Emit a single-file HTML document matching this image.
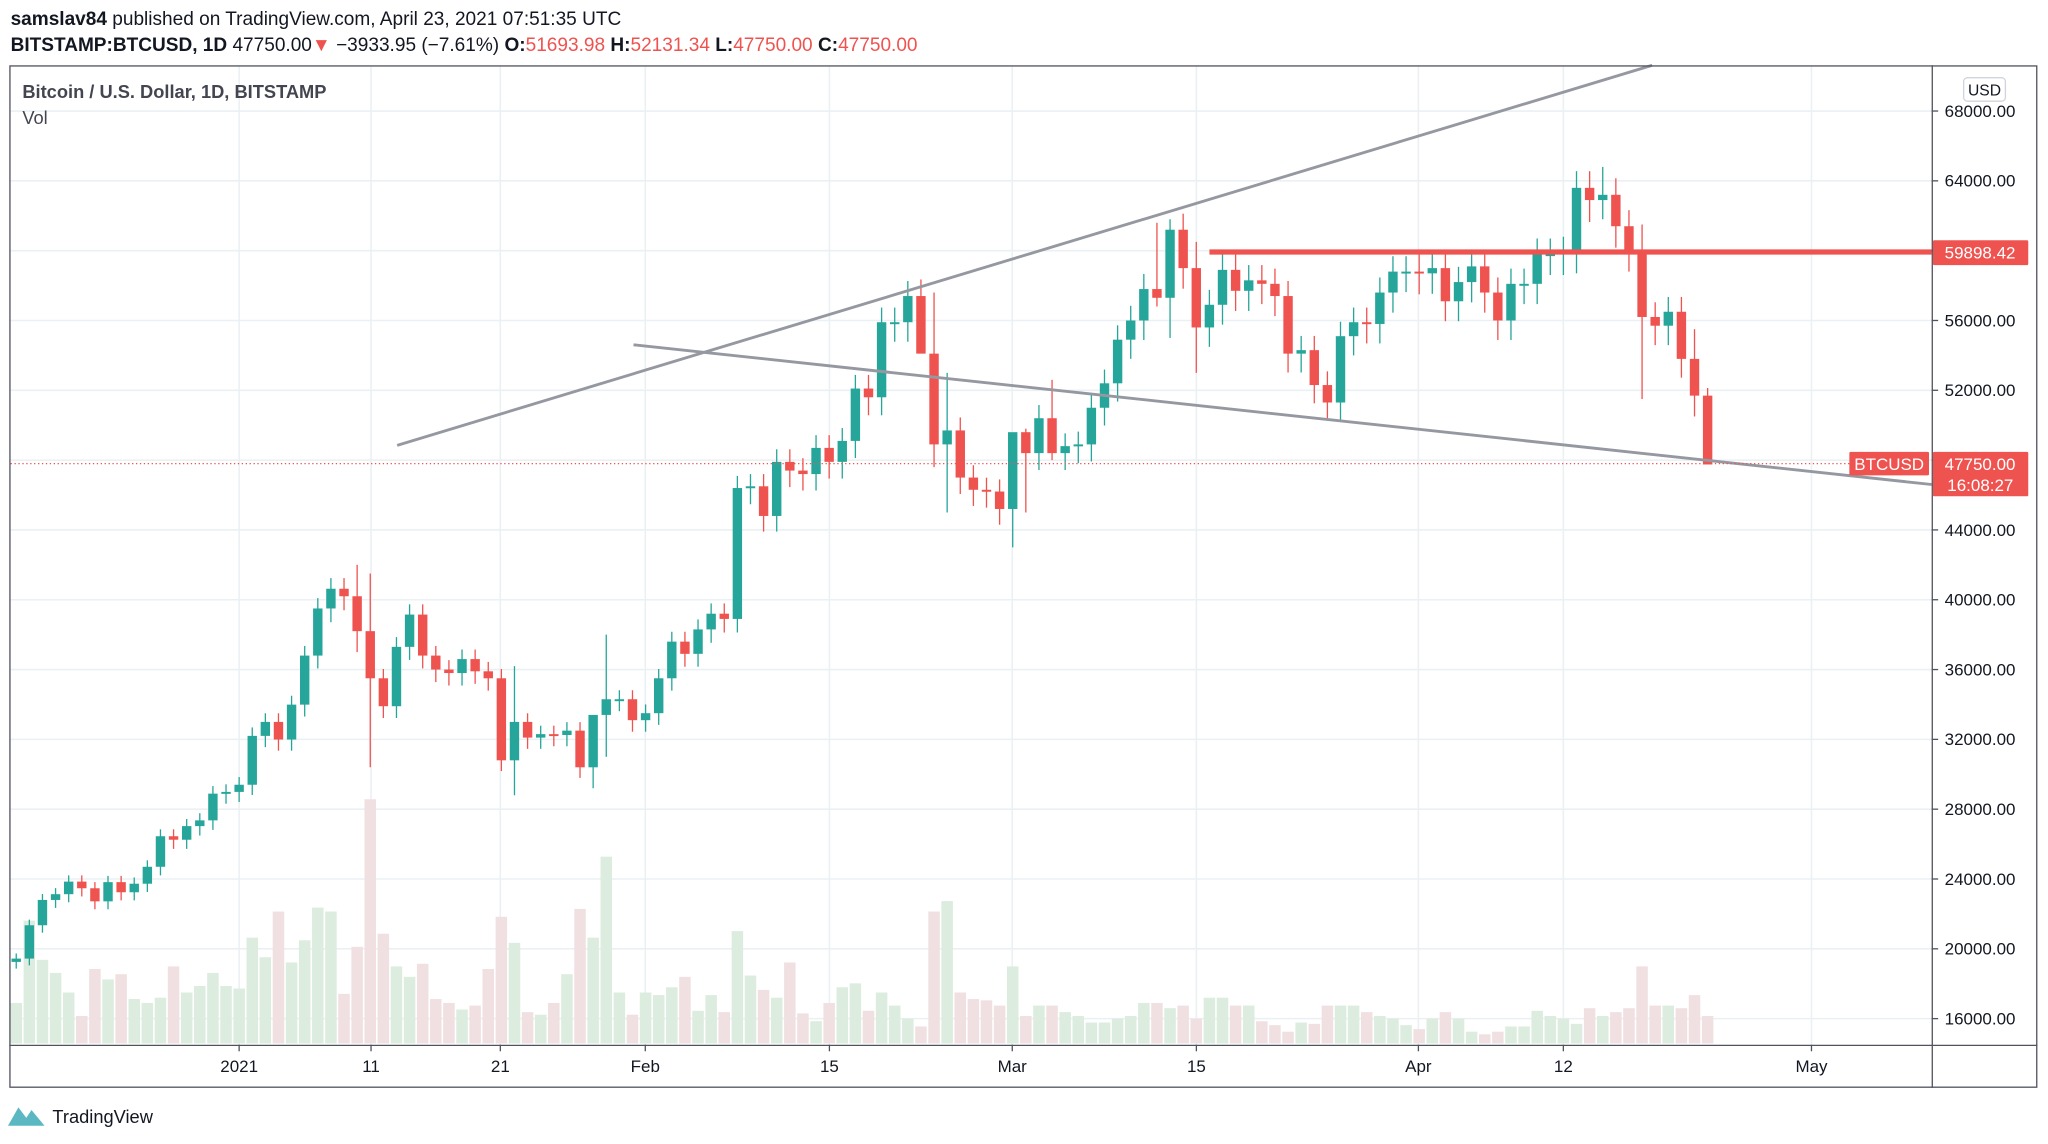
<!DOCTYPE html>
<html><head><meta charset="utf-8"><style>
html,body{margin:0;padding:0;background:#fff;}
svg{display:block;}
text{font-family:"Liberation Sans",sans-serif;}
</style></head><body>
<svg id="s" width="2048" height="1144" viewBox="0 0 1568 876" xmlns="http://www.w3.org/2000/svg">
<rect width="1568" height="876" fill="#fff"/>
<g id="grid"></g>
<g id="vol"></g>
<g id="cand"></g>
<g id="axis"></g>
<g id="over"></g>
<text x="8" y="19" font-size="14.6" fill="#131722"><tspan font-weight="bold">samslav84</tspan> published on TradingView.com, April 23, 2021 07:51:35 UTC</text>
<text x="8" y="39" font-size="14.6" fill="#131722"><tspan font-weight="bold">BITSTAMP:BTCUSD, 1D</tspan> 47750.00<tspan fill="#ef5350">▼</tspan> −3933.95 (−7.61%) <tspan font-weight="bold">O:</tspan><tspan fill="#ef5350">51693.98</tspan> <tspan font-weight="bold">H:</tspan><tspan fill="#ef5350">52131.34</tspan> <tspan font-weight="bold">L:</tspan><tspan fill="#ef5350">47750.00</tspan> <tspan font-weight="bold">C:</tspan><tspan fill="#ef5350">47750.00</tspan></text>
<rect x="7.5" y="50.5" width="1552" height="782" fill="none" stroke="#50535e" stroke-width="1"/>
<line x1="1479.5" y1="50" x2="1479.5" y2="833" stroke="#50535e"/>
<line x1="7" y1="800.5" x2="1560" y2="800.5" stroke="#50535e"/>
<text x="17" y="75" font-size="14" fill="#434651" font-weight="bold">Bitcoin / U.S. Dollar, 1D, BITSTAMP</text>
<text x="17" y="95" font-size="14" fill="#434651">Vol</text>
<rect x="1503.5" y="59.5" width="32" height="18" rx="3" fill="#fff" stroke="#d1d4dc"/>
<text x="1519.5" y="73" font-size="12" fill="#131722" text-anchor="middle">USD</text>
<path d="M6 862 L14 848 L20 856 L24 850 L34 862 Z" fill="#5bb8c2"/>
<text x="40" y="860" font-size="14" fill="#131722">TradingView</text>
</svg>
<script>
var NS="http://www.w3.org/2000/svg";
function el(p,t,a,txt){var e=document.createElementNS(NS,t);for(var k in a)e.setAttribute(k,a[k]);if(txt!==undefined)e.textContent=txt;document.getElementById(p).appendChild(e);return e;}
function Y(p){return 780-(p-16000)/4000*53.46;}
function X(i){return 183+(i-17)*10.04;}
for(var p=16000;p<=68000;p+=4000){var y=Y(p);el('grid','line',{x1:8,y1:y,x2:1479,y2:y,stroke:'#eaf0f3','stroke-width':1.2});
el('axis','line',{x1:1479,y1:y,x2:1484,y2:y,stroke:'#50535e'});
el('axis','text',{x:1489,y:y+4.5,'font-size':13,fill:'#131722'},p.toFixed(2));}
var dl=[[183,'2021'],[284,'11'],[383,'21'],[494,'Feb'],[635,'15'],[775,'Mar'],[916,'15'],[1086,'Apr'],[1197,'12'],[1387,'May']];
dl.forEach(function(d){el('grid','line',{x1:d[0],y1:51,x2:d[0],y2:800,stroke:'#eaf0f3','stroke-width':1.2});
el('axis','line',{x1:d[0],y1:800,x2:d[0],y2:805,stroke:'#50535e'});
el('axis','text',{x:d[0],y:821,'font-size':13,fill:'#131722','text-anchor':'middle'},d[1]);});
var C=[19440,21350,22800,23130,23850,23470,22720,23820,23240,23730,24700,26450,26250,27030,27360,28890,28990,
29400,32200,33000,31990,33990,36800,39500,40630,40200,38200,35500,33900,37300,39150,36800,36000,35800,36600,35900,35500,30800,33000,32100,32300,32250,32500,30400,33400,34300,34300,33100,
33500,35500,37600,36900,38300,39200,38900,46400,46500,44800,47900,47400,47200,48700,47900,49100,52100,51600,55900,55900,57400,54100,48900,49700,47000,46300,46200,45200,
49600,48400,50400,48400,48800,48900,51000,52400,54900,56000,57800,57300,61200,59000,55600,56900,58900,57700,58300,58100,57400,54100,54300,52300,51300,55100,55900,55800,57600,58800,58800,
58700,59000,57100,58200,59100,57600,56000,58100,58100,59800,59800,59900,63600,62900,63200,61400,60000,56200,55700,56500,53800,51694,47750];
var V=[768,705,735,745,760,778,742,750,746,765,768,764,740,760,755,745,755,
757,718,733,698,737,720,695,698,761,725,612,715,740,748,738,765,768,773,770,742,702,722,775,777,768,746,696,718,656,760,777,
760,762,756,748,774,762,775,713,747,758,764,737,776,782,768,756,753,774,760,770,780,786,698,690,760,765,766,770,
740,778,770,770,775,778,783,783,780,778,768,768,772,770,780,764,764,770,770,782,785,790,783,784,770,770,770,775,778,780,785,
788,780,775,780,790,792,790,786,786,774,778,780,784,772,778,775,772,740,770,770,772,762,778];
var OV={27:[41500,30400],26:[42000,37000],38:[36200,28800],44:[33000,29200],45:[38000,31000],69:[58350,55300],70:[57600,47600],71:[53000,45000],76:[48500,43000],77:[49800,45000],79:[52600,48000],87:[61600,56800],88:[61800,55000],90:[60500,53000],107:[60000,57500],121:[64800,61800],124:[61500,51500],128:[55500,50500],129:[52131,47750]};
for(var i=0;i<C.length;i++){
 var o=i==0?19250:C[i-1],c=C[i];
 var up=c>=o,col=up?'#26a69a':'#ef5350';
 var hi=Math.max(o,c)*1.015,lo=Math.min(o,c)*0.98;if(OV[i]){hi=OV[i][0];lo=OV[i][1];}
 var x=X(i);
 el('vol','rect',{x:x-4.4,y:V[i],width:8.8,height:799-V[i],fill:up?'#dcecdf':'#f0e0e1'});
 el('cand','line',{x1:x,y1:Y(hi),x2:x,y2:Y(lo),stroke:col,'stroke-width':1});
 var t=Y(Math.max(o,c)),b=Y(Math.min(o,c));if(b-t<1.5){b=t+1.5;}
 el('cand','rect',{x:x-3.6,y:t,width:7.2,height:b-t,fill:col});
}
el('over','line',{x1:304,y1:341,x2:1265,y2:50,stroke:'#9598a1','stroke-width':2.2});
el('over','line',{x1:485,y1:264,x2:1479,y2:371,stroke:'#9598a1','stroke-width':2.2});
el('over','line',{x1:926,y1:193,x2:1479,y2:193,stroke:'#ef5350','stroke-width':4});
el('over','line',{x1:8,y1:355,x2:1416,y2:355,stroke:'#ef5350','stroke-width':1,'stroke-dasharray':'1,2'});
el('over','rect',{x:1480,y:184,width:73,height:19,fill:'#ef5350',rx:1});
el('over','text',{x:1489,y:198,'font-size':13,fill:'#fff'},'59898.42');
el('over','rect',{x:1416,y:346,width:61,height:18,fill:'#ef5350',rx:1});
el('over','text',{x:1446.5,y:360,'font-size':13,fill:'#fff','text-anchor':'middle'},'BTCUSD');
el('over','rect',{x:1480,y:346,width:73,height:34,fill:'#ef5350',rx:1});
el('over','text',{x:1489,y:360,'font-size':13,fill:'#fff'},'47750.00');
el('over','text',{x:1491,y:376,'font-size':13,fill:'#fff'},'16:08:27');
</script>
</body></html>
